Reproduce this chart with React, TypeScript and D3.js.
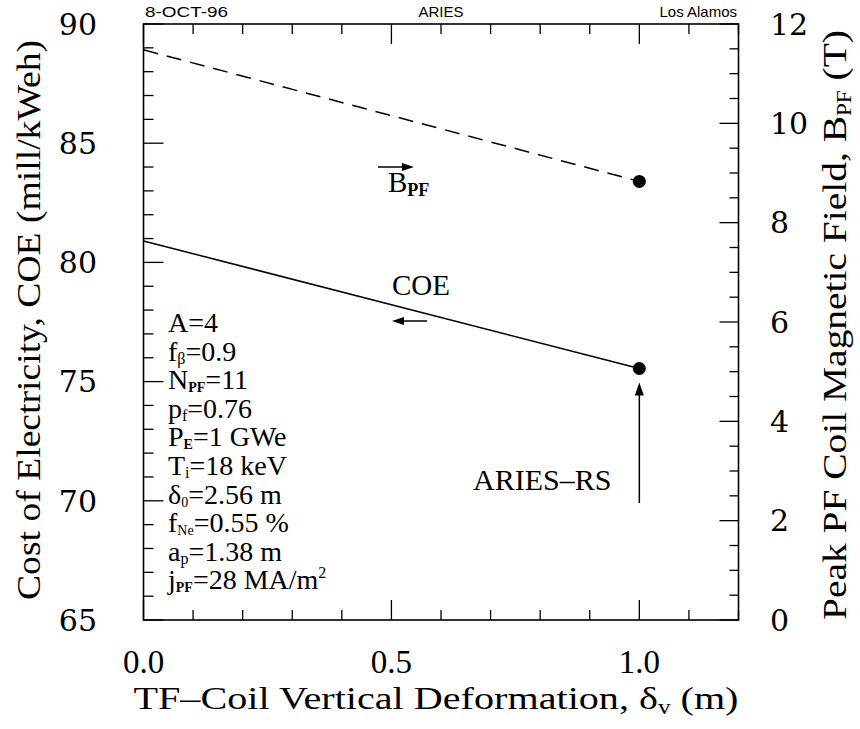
import React from "react";
import * as d3 from "d3";

// Design scan: TF-coil vertical deformation vs cost of electricity and PF-coil field
const deformation = [0.0, 1.0];
const coeValues = [80.9, 75.55];
const bpfValues = [11.48, 8.83];

const xTickLabels = ["0.0", "0.5", "1.0"];
const leftTickLabels = ["65", "70", "75", "80", "85", "90"];
const rightTickLabels = ["0", "2", "4", "6", "8", "10", "12"];

type Param = { base: string; sub?: string; rest: string; sup?: string };
const params: Param[] = [
  { base: "A", rest: "=4" },
  { base: "f", sub: "β", rest: "=0.9" },
  { base: "N", sub: "PF", rest: "=11" },
  { base: "p", sub: "f", rest: "=0.76" },
  { base: "P", sub: "E", rest: "=1 GWe" },
  { base: "T", sub: "i", rest: "=18 keV" },
  { base: "δ", sub: "0", rest: "=2.56 m" },
  { base: "f", sub: "Ne", rest: "=0.55 %" },
  { base: "a", sub: "p", rest: "=1.38 m" },
  { base: "j", sub: "PF", rest: "=28 MA/m", sup: "2" },
];

const W = 860;
const H = 729;
const left = 143.5;
const right = 738.5;
const top = 24;
const bottom = 620;

const SERIF = "Liberation Serif, Times New Roman, Times, Noto Serif, DejaVu Serif, serif";
const TICKFONT = "DejaVu Serif, Liberation Serif, serif";
const SANS = "Liberation Sans, Arial, Helvetica, sans-serif";

export default function App() {
  const x = d3.scaleLinear().domain([0, 1.2]).range([left, right]);
  const yL = d3.scaleLinear().domain([65, 90]).range([bottom, top]);
  const yR = d3.scaleLinear().domain([0, 12]).range([bottom, top]);

  const xTicks = d3.range(0, 13).map((i) => i / 10);
  const lTicks = d3.range(65, 91);
  const rTicks = d3.range(0, 25).map((i) => i / 2);

  const coeLine = d3
    .line<number>()
    .x((_, i) => x(deformation[i]))
    .y((d) => yL(d))(coeValues) as string;
  const bpfLine = d3
    .line<number>()
    .x((_, i) => x(deformation[i]))
    .y((d) => yR(d))(bpfValues) as string;

  const last = deformation.length - 1;
  const px = x(deformation[last]);
  const coeY = yL(coeValues[last]);
  const bpfY = yR(bpfValues[last]);

  const isMajor = (v: number, step: number) =>
    Math.abs(v / step - Math.round(v / step)) < 1e-6;

  const serif = { fontFamily: SERIF };
  const tickFont = { fontFamily: TICKFONT };
  const sans = { fontFamily: SANS };

  return (
    <svg
      width={W}
      height={H}
      style={{ position: "absolute", left: 0, top: 0, background: "#fff" }}
    >
      <rect x={0} y={0} width={W} height={H} fill="#fff" />

      {/* header */}
      <g style={sans} fontSize={15} fill="#000">
        <text x={145} y={17} textLength={83} lengthAdjust="spacingAndGlyphs">
          8-OCT-96
        </text>
        <text x={441} y={17} textAnchor="middle">
          ARIES
        </text>
        <text x={737} y={17} textAnchor="end">
          Los Alamos
        </text>
      </g>

      {/* frame */}
      <rect
        x={left}
        y={top}
        width={right - left}
        height={bottom - top}
        fill="none"
        stroke="#000"
        strokeWidth={1.6}
      />

      {/* ticks on all four sides */}
      <g stroke="#000" strokeWidth={1.3}>
        {xTicks.map((t) => {
          const len = isMajor(t, 0.5) ? 20 : 10;
          const xx = x(t);
          return (
            <g key={`xt${t}`}>
              <line x1={xx} x2={xx} y1={bottom} y2={bottom - len} />
              <line x1={xx} x2={xx} y1={top} y2={top + len} />
            </g>
          );
        })}
        {lTicks.map((t) => {
          const len = isMajor(t, 5) ? 20 : 10;
          const yy = yL(t);
          return <line key={`lt${t}`} x1={left} x2={left + len} y1={yy} y2={yy} />;
        })}
        {rTicks.map((t) => {
          const len = isMajor(t, 2) ? 19 : 9;
          const yy = yR(t);
          return <line key={`rt${t}`} x1={right} x2={right - len} y1={yy} y2={yy} />;
        })}
      </g>

      {/* tick labels */}
      <g style={serif} fontSize={33} fill="#000" textAnchor="middle">
        {xTickLabels.map((s) => (
          <text key={`xl${s}`} x={x(+s)} y={673}>
            {s}
          </text>
        ))}
      </g>
      <g style={tickFont} fontSize={30} fill="#000">
        {leftTickLabels.map((s) => (
          <text key={`ll${s}`} x={97} y={yL(+s)} dy="0.36em" textAnchor="end">
            {s}
          </text>
        ))}
        {rightTickLabels.map((s) => (
          <text key={`rl${s}`} x={770} y={yR(+s)} dy="0.36em" textAnchor="start">
            {s}
          </text>
        ))}
      </g>

      {/* axis titles */}
      <text
        style={serif}
        fontSize={32}
        x={436}
        y={709}
        textAnchor="middle"
        textLength={605}
        lengthAdjust="spacingAndGlyphs"
      >
        TF–Coil Vertical Deformation,{" "}
        <tspan>δ</tspan>
        <tspan fontSize={20} dy={5}>v</tspan>
        <tspan dy={-5}> (m)</tspan>
      </text>
      <text
        style={serif}
        fontSize={34}
        transform={`translate(40,320) rotate(-90)`}
        textAnchor="middle"
        textLength={560}
        lengthAdjust="spacingAndGlyphs"
      >
        Cost of Electricity, COE (mill/kWeh)
      </text>
      <text
        style={serif}
        fontSize={34}
        transform={`translate(846,325) rotate(-90)`}
        textAnchor="middle"
        textLength={590}
        lengthAdjust="spacingAndGlyphs"
      >
        Peak PF Coil Magnetic Field, B
        <tspan fontSize={20} dy={5}>PF</tspan>
        <tspan dy={-5}> (T)</tspan>
      </text>

      {/* data lines */}
      <path d={bpfLine} fill="none" stroke="#000" strokeWidth={1.5} strokeDasharray="15,9" />
      <path d={coeLine} fill="none" stroke="#000" strokeWidth={1.5} />
      <circle cx={px} cy={bpfY} r={6.5} fill="#000" />
      <circle cx={px} cy={coeY} r={6.5} fill="#000" />

      {/* series labels and axis-direction arrows */}
      <g style={serif} fill="#000">
        <text x={388} y={192} fontSize={29}>
          B<tspan fontSize={18} fontWeight="bold" dy={4}>PF</tspan>
        </text>
        <text x={392} y={295} fontSize={29}>
          COE
        </text>
        <text x={473} y={490} fontSize={30}>
          ARIES–RS
        </text>
      </g>
      <g stroke="#000" strokeWidth={1.5} fill="#000">
        <line x1={378} x2={405} y1={167} y2={167} />
        <path d="M414,167 L402,163 L402,171 Z" stroke="none" />
        <line x1={402} x2={427} y1={321} y2={321} />
        <path d="M392,321 L404,317 L404,325 Z" stroke="none" />
        <line x1={px} x2={px} y1={503} y2={392} />
        <path d={`M${px},${coeY + 14} L${px - 4.5},${coeY + 27} L${px + 4.5},${coeY + 27} Z`} stroke="none" />
      </g>

      {/* design parameters */}
      <g style={serif} fontSize={28} fill="#000">
        {params.map((p, i) => (
          <text key={`p${i}`} x={168} y={332 + i * 28.6}>
            {p.base}
            {p.sub ? (
              <tspan
                fontSize={p.sub === "β" || p.sub === "f" || p.sub === "i" || p.sub === "p" ? 16 : 14}
                fontWeight={p.sub === "PF" || p.sub === "E" ? "bold" : "normal"}
                dy={3}
              >
                {p.sub}
              </tspan>
            ) : null}
            <tspan dy={p.sub ? -3 : 0}>{p.rest}</tspan>
            {p.sup ? (
              <tspan fontSize={16} dy={-11}>
                {p.sup}
              </tspan>
            ) : null}
          </text>
        ))}
      </g>
    </svg>
  );
}
